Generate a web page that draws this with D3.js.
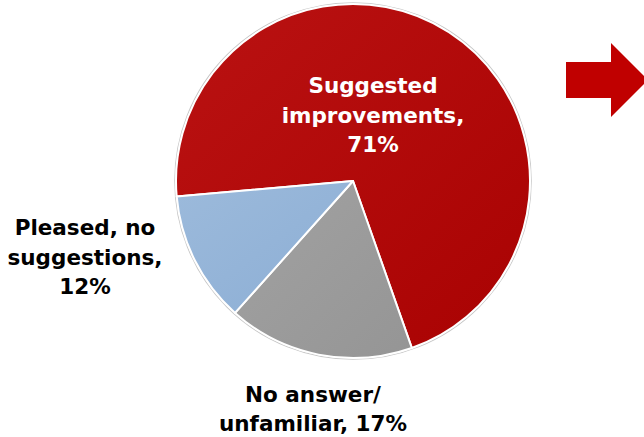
<!DOCTYPE html>
<html><head><meta charset="utf-8">
<script src="https://cdn.jsdelivr.net/npm/d3@7"></script>
<style>html,body{margin:0;padding:0;background:#fff;overflow:hidden}</style>
</head><body>
<svg id="c" width="644" height="437"></svg>
<script>
const categories = ["Suggested improvements", "No answer/ unfamiliar", "Pleased, no suggestions"];
const values = [71, 17, 12];
const colors = ["#B00808", "#9A9A9A", "#93B4D8"];
const labelLines = [
  ["Suggested", "improvements,", "71%"],
  ["No answer/", "unfamiliar, 17%"],
  ["Pleased, no", "suggestions,", "12%"]
];

const svg = d3.select("#c");
const cx = 353, cy = 181, r = 177;
const defs = svg.append("defs");
const grads = [["#BA1212","#A90202"],["#A2A2A2","#959595"],["#9CBADB","#8CAED5"]];
grads.forEach((g,i)=>{
  const lg = defs.append("linearGradient").attr("id","g"+i)
    .attr("x1","0%").attr("y1","0%").attr("x2","100%").attr("y2","100%");
  lg.append("stop").attr("offset","0%").attr("stop-color",g[0]);
  lg.append("stop").attr("offset","100%").attr("stop-color",g[1]);
});

const deg = Math.PI/180;
const pie = d3.pie().sort(null).value(d=>d)
  .startAngle(-95*deg).endAngle(265*deg);
const arcs = pie(values);
const arc = d3.arc().innerRadius(0).outerRadius(r);

const g = svg.append("g").attr("transform",`translate(${cx},${cy})`);
g.append("circle").attr("r", r+1.2).attr("fill","none").attr("stroke","#c8c8c8").attr("stroke-width",1.2);
g.selectAll("path.s").data(arcs).join("path").attr("class","s")
  .attr("d", arc).attr("fill",(d,i)=>`url(#g${i})`)
  .attr("stroke","#fff").attr("stroke-width",2).attr("stroke-linejoin","round");

// labels
const labelPos = [
  {x: 373, y: 93, fill: "#fff", lh: 29.5},
  {x: 313, y: 402, fill: "#000", lh: 28.5},
  {x: 85, y: 235, fill: "#000", lh: 29.5}
];
labelLines.forEach((lines,i)=>{
  const t = svg.append("text").attr("x",labelPos[i].x).attr("y",labelPos[i].y)
    .attr("text-anchor","middle").attr("fill",labelPos[i].fill)
    .style("font-family","'DejaVu Sans', Verdana, sans-serif")
    .style("font-weight","bold").style("font-size","21.5px");
  lines.forEach((l,j)=>{
    t.append("tspan").attr("x",labelPos[i].x).attr("dy", j===0?0:labelPos[i].lh).text(l);
  });
});

// arrow
const arrowPts = [[566,62],[611,62],[611,43],[648,80],[611,117],[611,98],[566,98]];
svg.append("path").attr("d", d3.line()(arrowPts)+"Z").attr("fill","#C00000");
</script>
</body></html>
